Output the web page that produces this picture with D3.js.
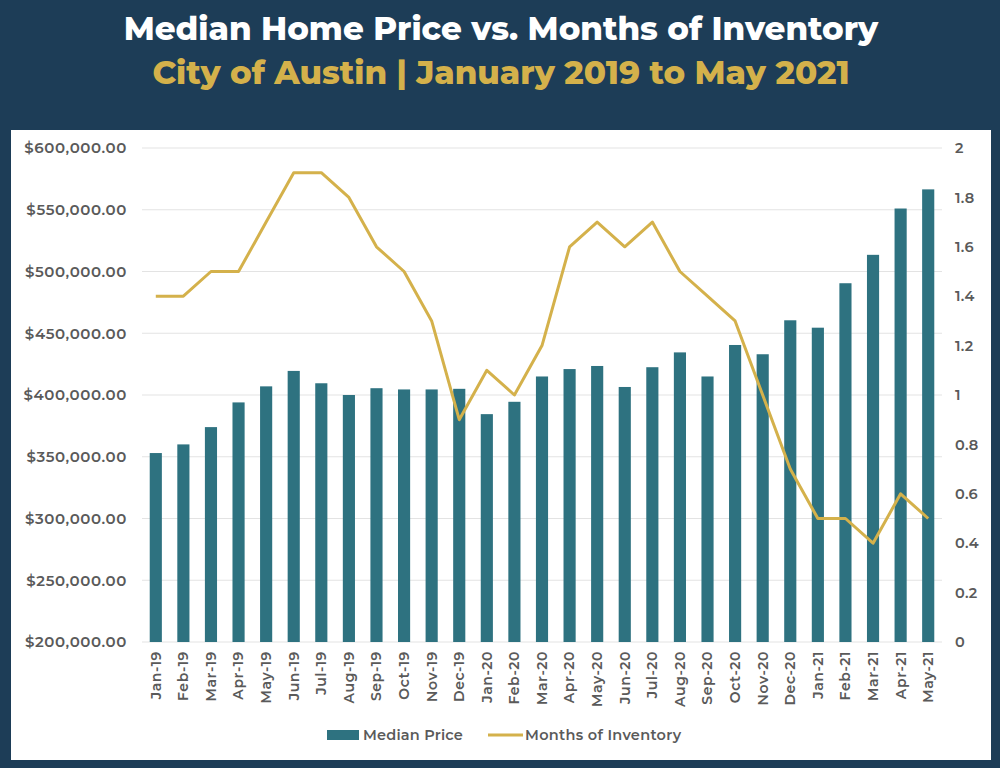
<!DOCTYPE html>
<html>
<head>
<meta charset="utf-8">
<script src="https://cdn.jsdelivr.net/npm/d3@7"></script>
<style>
  body { margin: 0; background: #1d3d57; }
  svg { display: block; }
</style>
</head>
<body>
<div id="chart"></div>
<script>
const months = ["Jan-19","Feb-19","Mar-19","Apr-19","May-19","Jun-19","Jul-19","Aug-19","Sep-19","Oct-19","Nov-19","Dec-19",
  "Jan-20","Feb-20","Mar-20","Apr-20","May-20","Jun-20","Jul-20","Aug-20","Sep-20","Oct-20","Nov-20","Dec-20",
  "Jan-21","Feb-21","Mar-21","Apr-21","May-21"];
const medianPrice = [353000,360000,374000,394000,407000,419500,409500,400000,405500,404500,404500,405000,
  384500,394500,415000,421000,423500,406500,422500,434500,415000,440500,433000,460500,
  454500,490500,513500,551000,566500];
const monthsInventory = [1.4,1.4,1.5,1.5,1.7,1.9,1.9,1.8,1.6,1.5,1.3,0.9,
  1.1,1.0,1.2,1.6,1.7,1.6,1.7,1.5,1.4,1.3,1.0,0.7,
  0.5,0.5,0.4,0.6,0.5];
const priceTicks = [200000,250000,300000,350000,400000,450000,500000,550000,600000];
const invTicks = [0,0.2,0.4,0.6,0.8,1,1.2,1.4,1.6,1.8,2];

const W = 1000, H = 768;
const m = {left: 142, right: 942, top: 148, bottom: 642};
const navy = "#1d3d57", teal = "#2e7280", gold = "#d4b14b", grey = "#5a5a5a";
const font = "Montserrat, 'Noto Sans', sans-serif";

const svg = d3.select("#chart").append("svg")
  .attr("width", W).attr("height", H);

svg.append("rect").attr("width", W).attr("height", H).attr("fill", navy);

// titles
svg.append("text")
  .attr("x", 501).attr("y", 40)
  .attr("text-anchor", "middle")
  .attr("fill", "#ffffff")
  .style("font-family", font).style("font-weight", 800).style("font-size", "32.5px")
  .text("Median Home Price vs. Months of Inventory");
svg.append("text")
  .attr("x", 501).attr("y", 84)
  .attr("text-anchor", "middle")
  .attr("fill", gold)
  .style("font-family", font).style("font-weight", 800).style("font-size", "32.5px")
  .text("City of Austin | January 2019 to May 2021");

// white panel
svg.append("rect")
  .attr("x", 11).attr("y", 130).attr("width", 980).attr("height", 630)
  .attr("fill", "#ffffff");

const x = d3.scaleBand().domain(months).range([m.left, m.right]).paddingInner(0.56).paddingOuter(0.28);
const yL = d3.scaleLinear().domain([200000, 600000]).range([m.bottom, m.top]);
const yR = d3.scaleLinear().domain([0, 2]).range([m.bottom, m.top]);

// grid
svg.append("g")
  .selectAll("line")
  .data(priceTicks)
  .join("line")
  .attr("x1", m.left).attr("x2", m.right)
  .attr("y1", d => yL(d)).attr("y2", d => yL(d))
  .attr("stroke", "#e3e3e3").attr("stroke-width", 1.2);

// left axis
const fmtPrice = d => "$" + d3.format(",.2f")(d);
const leftAxis = svg.append("g")
  .attr("transform", `translate(${m.left},0)`)
  .call(d3.axisLeft(yL).tickValues(priceTicks).tickFormat(fmtPrice).tickSize(0).tickPadding(15));
leftAxis.select(".domain").remove();
leftAxis.selectAll("text")
  .attr("fill", grey)
  .style("font-family", font).style("font-weight", 600).style("font-size", "15px")
  .style("letter-spacing", "0.6px");

// right axis
const rightAxis = svg.append("g")
  .attr("transform", `translate(${m.right},0)`)
  .call(d3.axisRight(yR).tickValues(invTicks).tickFormat(d3.format("")).tickSize(0).tickPadding(13));
rightAxis.select(".domain").remove();
rightAxis.selectAll("text")
  .attr("fill", grey)
  .style("font-family", font).style("font-weight", 600).style("font-size", "14.5px")
  .style("letter-spacing", "0.3px");

// bars
svg.append("g")
  .selectAll("rect")
  .data(medianPrice)
  .join("rect")
  .attr("x", (d, i) => x(months[i]))
  .attr("width", x.bandwidth())
  .attr("y", d => yL(d))
  .attr("height", d => yL(200000) - yL(d))
  .attr("fill", teal);

// line
const line = d3.line()
  .x((d, i) => x(months[i]) + x.bandwidth() / 2)
  .y(d => yR(d));
svg.append("path")
  .datum(monthsInventory)
  .attr("d", line)
  .attr("fill", "none")
  .attr("stroke", gold)
  .attr("stroke-width", 3)
  .attr("stroke-linejoin", "round");

// x axis labels
const bottomAxis = svg.append("g")
  .attr("transform", `translate(0,${m.bottom})`)
  .call(d3.axisBottom(x).tickSize(0).tickPadding(0));
bottomAxis.select(".domain").remove();
bottomAxis.selectAll("text")
  .attr("transform", "rotate(-90)")
  .attr("x", -9).attr("y", 0).attr("dy", "0.35em")
  .attr("text-anchor", "end")
  .attr("fill", grey)
  .style("font-family", font).style("font-weight", 600).style("font-size", "14px")
  .style("letter-spacing", "0.6px");

// legend
const lg = svg.append("g").attr("transform", "translate(0,735)");
lg.append("rect").attr("x", 327).attr("y", -5).attr("width", 32).attr("height", 10).attr("fill", teal);
lg.append("text").attr("x", 363).attr("y", 0).attr("dy", "0.35em")
  .attr("fill", grey)
  .style("font-family", font).style("font-weight", 600).style("font-size", "14.5px")
  .style("letter-spacing", "0.2px")
  .text("Median Price");
lg.append("line").attr("x1", 488).attr("x2", 523).attr("y1", 0).attr("y2", 0)
  .attr("stroke", gold).attr("stroke-width", 3);
lg.append("text").attr("x", 525).attr("y", 0).attr("dy", "0.35em")
  .attr("fill", grey)
  .style("font-family", font).style("font-weight", 600).style("font-size", "14.5px")
  .style("letter-spacing", "0.3px")
  .text("Months of Inventory");
</script>
</body>
</html>
